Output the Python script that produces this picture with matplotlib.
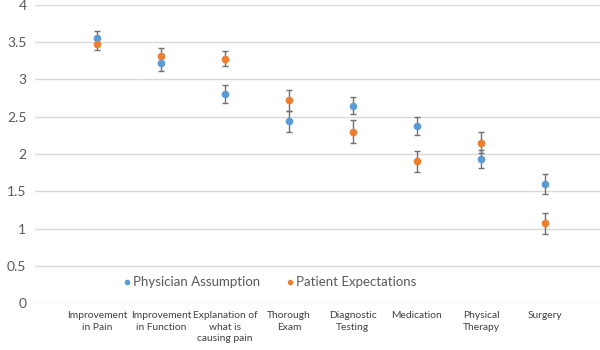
import numpy as np
import matplotlib
matplotlib.use("Agg")
import matplotlib.pyplot as plt
from matplotlib.lines import Line2D

# ── Data ───────────────────────────────────────────────────────────────────────
categories = ["Improvement\nin Pain", "Improvement\nin Function",
              "Explanation of\nwhat is\ncausing pain", "Thorough\nExam",
              "Diagnostic\nTesting", "Medication", "Physical\nTherapy", "Surgery"]

physician     = [3.56, 3.22, 2.80, 2.44, 2.65, 2.38, 1.93, 1.60]
physician_err = [0.09, 0.10, 0.12, 0.14, 0.12, 0.12, 0.12, 0.13]
patient       = [3.48, 3.32, 3.28, 2.72, 2.30, 1.90, 2.15, 1.07]
patient_err   = [0.08, 0.10, 0.10, 0.14, 0.15, 0.14, 0.14, 0.145]

BLUE   = "#5B9BD5"
ORANGE = "#ED7D31"
GRAY   = "#595959"

plt.rcParams["font.family"] = ["Lato", "DejaVu Sans"]

fig = plt.figure(figsize=(6, 3.5), dpi=100)
ax = fig.add_axes([0.058, 0.134, 0.942, 0.852])

x = np.arange(1, len(categories) + 1)

# ── Points with error bars ─────────────────────────────────────────────────────
for vals, errs, col in [(physician, physician_err, BLUE),
                        (patient, patient_err, ORANGE)]:
    ax.errorbar(x, vals, yerr=errs, fmt="o", color=col, markersize=4.5,
                ecolor="#707070", elinewidth=1.0, capsize=2.5, capthick=1.0,
                zorder=3)

# ── Axes styling ───────────────────────────────────────────────────────────────
ax.set_xlim(0.03, 8.86)
ax.set_ylim(0, 4)
ax.set_yticks(np.arange(0, 4.01, 0.5))
ax.set_yticklabels(["0", "0.5", "1", "1.5", "2", "2.5", "3", "3.5", "4"])
ax.grid(axis="y", color="#d9d9d9", linewidth=1.0, zorder=0)
ax.set_axisbelow(True)
for s in ax.spines.values():
    s.set_visible(False)
ax.tick_params(axis="y", length=0, labelsize=10, colors=GRAY, pad=6)
ax.tick_params(axis="x", length=0, labelsize=7.4, colors="#404040", pad=6)
ax.set_xticks(x)
ax.set_xticklabels(categories, linespacing=1.3, va="top")

# ── Legend inside plot ─────────────────────────────────────────────────────────
handles = [Line2D([], [], marker="o", linestyle="none", color=BLUE, markersize=3),
           Line2D([], [], marker="o", linestyle="none", color=ORANGE, markersize=3)]
ax.legend(handles, ["Physician Assumption", "Patient Expectations"],
          loc="center left", bbox_to_anchor=(0.135, 0.07), ncol=2,
          frameon=False, fontsize=9.5, handletextpad=0.15,
          columnspacing=2.0, handlelength=0.6, labelcolor=GRAY)

fig.savefig("out.png", dpi=100)
